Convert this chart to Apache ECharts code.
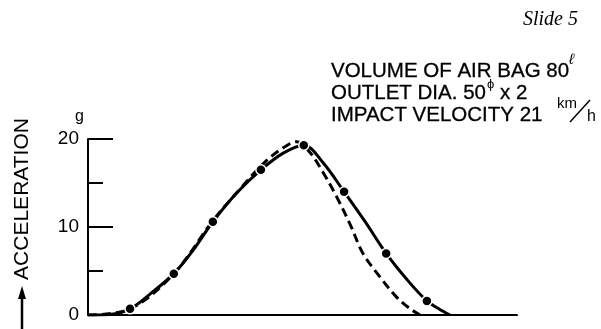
<!DOCTYPE html>
<html>
<head>
<meta charset="utf-8">
<script src="https://cdn.jsdelivr.net/npm/echarts@6/dist/echarts.min.js"></script>
<style>html,body{margin:0;padding:0;background:#fff;}#c{width:601px;height:329px;}</style>
</head>
<body>
<div id="c"></div>
<script>
// Time axis (arbitrary units, unlabelled in the original) and acceleration in g
var solidX = [0, 5.1, 9.8, 14.5, 20.0, 24.7, 29.1, 34.7, 40.3, 45.5, 50.3, 54.8, 59.7, 64.6, 69.5, 74.4, 79.0, 82.1, 84.4];
var solidY = [0, 0.06, 0.7, 2.4, 4.7, 7.5, 10.6, 13.9, 16.5, 18.4, 19.3, 17.3, 14.0, 10.6, 7.0, 4.0, 1.6, 0.6, 0];
var dashedX = [0, 9.8, 20.0, 29.1, 35.4, 41.3, 45.5, 48.7, 51.7, 54.8, 58.0, 61.1, 64.1, 68.1, 72.0, 75.1, 77.4];
var dashedY = [0, 0.7, 4.7, 10.7, 14.3, 17.4, 19.0, 19.7, 18.5, 16.2, 13.4, 10.3, 7.0, 4.3, 2.0, 0.7, 0];
var markerX = [9.8, 20.0, 29.1, 40.3, 50.3, 59.7, 69.5, 79.0];
var markerY = [0.7, 4.7, 10.6, 16.5, 19.3, 14.0, 7.0, 1.6];
var yTicks = [0, 10, 20];

function zip(a, b) { return a.map(function (v, i) { return [v, b[i]]; }); }

var F = '"Liberation Sans", Arial, sans-serif';
var chart = echarts.init(document.getElementById('c'), null, {renderer: 'canvas'});
chart.setOption({
  animation: false,
  backgroundColor: '#fff',
  grid: {left: 88, right: 84, top: 139, bottom: 14},
  xAxis: {
    type: 'value', min: 0, max: 100,
    axisLine: {lineStyle: {color: '#000', width: 2}},
    axisTick: {show: false}, axisLabel: {show: false}, splitLine: {show: false}
  },
  yAxis: {
    type: 'value', min: 0, max: 20, interval: 10,
    axisLine: {show: true, lineStyle: {color: '#000', width: 2}},
    axisTick: {show: true, inside: true, length: 25, lineStyle: {color: '#000', width: 2}},
    minorTick: {show: true, splitNumber: 2, length: 15, lineStyle: {color: '#000', width: 2}},
    axisLabel: {color: '#000', fontSize: 19, fontFamily: F, margin: 9,
      formatter: function (v) { return yTicks.indexOf(v) >= 0 ? String(v) : ''; }},
    splitLine: {show: false}
  },
  series: [
    {type: 'line', data: zip(dashedX, dashedY), smooth: 0.35, showSymbol: false,
      lineStyle: {color: '#000', width: 3, type: [9, 5]}},
    {type: 'line', data: zip(solidX, solidY), smooth: 0.35, showSymbol: false,
      lineStyle: {color: '#000', width: 3}},
    {type: 'scatter', data: zip(markerX, markerY), symbol: 'circle', symbolSize: 10,
      itemStyle: {color: '#000', borderColor: '#fff', borderWidth: 1.5, opacity: 1}, z: 5}
  ],
  graphic: [
    {type: 'text', left: 523, top: 10, style: {text: 'Slide 5', font: 'italic 20px "Liberation Serif", serif', fill: '#000'}},
    {type: 'text', x: 331, y: 71, style: {text: 'VOLUME OF AIR BAG 80', font: '20.5px ' + F, fill: '#000', stroke: '#000', lineWidth: 0.3, textVerticalAlign: 'middle'}},
    {type: 'text', x: 569, y: 60, style: {text: 'ℓ', font: 'italic 15px ' + F, fill: '#000', textVerticalAlign: 'middle'}},
    {type: 'text', x: 331, y: 93, style: {text: 'OUTLET DIA. 50', font: '20.5px ' + F, fill: '#000', stroke: '#000', lineWidth: 0.3, textVerticalAlign: 'middle'}},
    {type: 'text', x: 487, y: 84, style: {text: 'ϕ', font: '13px ' + F, fill: '#000', textVerticalAlign: 'middle'}},
    {type: 'text', x: 500, y: 93, style: {text: 'x 2', font: '20.5px ' + F, fill: '#000', stroke: '#000', lineWidth: 0.3, textVerticalAlign: 'middle'}},
    {type: 'text', x: 331, y: 115, style: {text: 'IMPACT VELOCITY 21', font: '20.5px ' + F, fill: '#000', stroke: '#000', lineWidth: 0.3, textVerticalAlign: 'middle'}},
    {type: 'text', x: 557, y: 104, style: {text: 'km', font: '15px ' + F, fill: '#000', textVerticalAlign: 'middle'}},
    {type: 'line', shape: {x1: 570, y1: 122, x2: 590, y2: 100}, style: {stroke: '#000', lineWidth: 1.5}},
    {type: 'text', x: 587, y: 117, style: {text: 'h', font: '16px ' + F, fill: '#000', textVerticalAlign: 'middle'}},
    {type: 'text', x: 75, y: 117, style: {text: 'g', font: '16px ' + F, fill: '#000', textVerticalAlign: 'middle'}},
    {type: 'text', x: 22, y: 199, rotation: Math.PI / 2,
      style: {text: 'ACCELERATION', font: '21px ' + F, fill: '#000', textAlign: 'center', textVerticalAlign: 'middle'}},
    {type: 'line', shape: {x1: 22, y1: 295, x2: 22, y2: 329}, style: {stroke: '#000', lineWidth: 2.5}},
    {type: 'polygon', shape: {points: [[22, 286], [18, 299], [26, 299]]}, style: {fill: '#000'}}
  ]
});
</script>
</body>
</html>
